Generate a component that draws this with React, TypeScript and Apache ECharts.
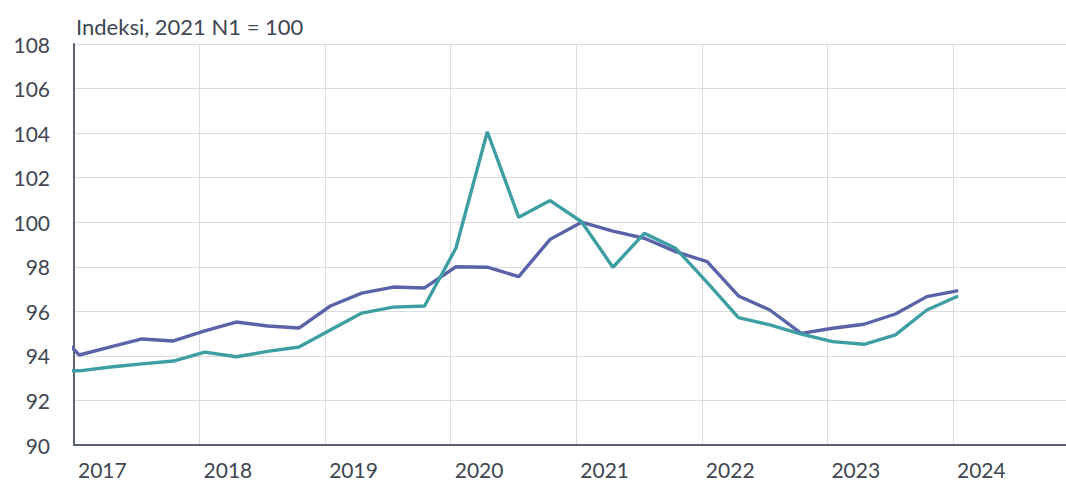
import React, { useEffect, useRef } from "react";
import * as echarts from "echarts";

// Quarters: 2016 N4 .. 2024 N1 (first point lies left of the visible axis)
const quarters = [
  "2016 N4",
  "2017 N1", "2017 N2", "2017 N3", "2017 N4",
  "2018 N1", "2018 N2", "2018 N3", "2018 N4",
  "2019 N1", "2019 N2", "2019 N3", "2019 N4",
  "2020 N1", "2020 N2", "2020 N3", "2020 N4",
  "2021 N1", "2021 N2", "2021 N3", "2021 N4",
  "2022 N1", "2022 N2", "2022 N3", "2022 N4",
  "2023 N1", "2023 N2", "2023 N3", "2023 N4",
  "2024 N1",
];

const purpleValues = [
  95.5,
  94.04, 94.4, 94.76, 94.67,
  95.12, 95.52, 95.34, 95.25,
  96.24, 96.82, 97.09, 97.05,
  98.0, 97.98, 97.56, 99.23,
  100.0, 99.6, 99.28, 98.68,
  98.23, 96.69, 96.06, 95.01,
  95.24, 95.42, 95.88, 96.66,
  96.93,
];

const tealValues = [
  93.33,
  93.33, 93.5, 93.64, 93.77,
  94.17, 93.96, 94.2, 94.4,
  95.16, 95.92, 96.19, 96.24,
  98.84, 104.06, 100.22, 100.97,
  100.02, 97.98, 99.5, 98.83,
  97.3, 95.72, 95.39, 94.98,
  94.64, 94.52, 94.94, 96.06,
  96.69,
];

const yTicks = { min: 90, max: 108, interval: 2 };
const xYears = { min: 2017, max: 2024.9, interval: 1 };
const titleText = "Indeksi, 2021 N1 = 100";

function quarterToX(q: string): number {
  const [y, n] = q.split(" N");
  // points sit at mid-January / April / July / October
  return Number(y) + ((Number(n) - 1) * 3 + 0.5) / 12;
}

export default function App() {
  const ref = useRef<HTMLDivElement>(null);
  useEffect(() => {
    if (!ref.current) return;
    const chart = echarts.init(ref.current, undefined, { renderer: "svg" });
    const font = "Lato";
    const textColor = "#404652";
    chart.setOption({
      animation: false,
      backgroundColor: "#ffffff",
      title: {
        text: titleText,
        left: 71,
        top: 10,
        textStyle: { fontFamily: font, fontSize: 22, fontWeight: "normal", color: textColor },
      },
      grid: { left: 74, top: 44, right: 0, height: 401 },
      xAxis: {
        type: "value",
        min: xYears.min,
        max: xYears.max,
        interval: xYears.interval,
        axisLine: { show: true, onZero: false, lineStyle: { color: "#5d6372", width: 2 } },
        axisTick: { show: false },
        splitLine: { show: true, lineStyle: { color: "#dcdcdc", width: 1 } },
        axisLabel: {
          showMaxLabel: false,
          align: "left",
          margin: 14,
          padding: [0, 0, 0, 4],
          fontFamily: font,
          fontSize: 21,
          color: textColor,
          formatter: (v: number) => (Number.isInteger(v) ? String(v) : ""),
        },
      },
      yAxis: {
        type: "value",
        min: yTicks.min,
        max: yTicks.max,
        interval: yTicks.interval,
        axisLine: { show: true, lineStyle: { color: "#5d6372", width: 2 } },
        axisTick: { show: false },
        splitLine: { show: true, lineStyle: { color: "#dcdcdc", width: 1 } },
        axisLabel: { margin: 24, fontFamily: font, fontSize: 21, color: textColor },
      },
      series: [
        {
          type: "line",
          name: "purple",
          data: quarters.map((q, i) => [quarterToX(q), purpleValues[i]]),
          showSymbol: false,
          symbol: "none",
          clip: true,
          lineStyle: { color: "#5a62a8", width: 3.4 },
          z: 3,
        },
        {
          type: "line",
          name: "teal",
          data: quarters.map((q, i) => [quarterToX(q), tealValues[i]]),
          showSymbol: false,
          symbol: "none",
          clip: true,
          lineStyle: { color: "#3d9fa3", width: 3.4 },
          z: 4,
        },
      ],
    });
    return () => chart.dispose();
  }, []);
  return (
    <div
      ref={ref}
      style={{ position: "fixed", left: 0, top: 0, width: 1066, height: 488, background: "#fff" }}
    />
  );
}
